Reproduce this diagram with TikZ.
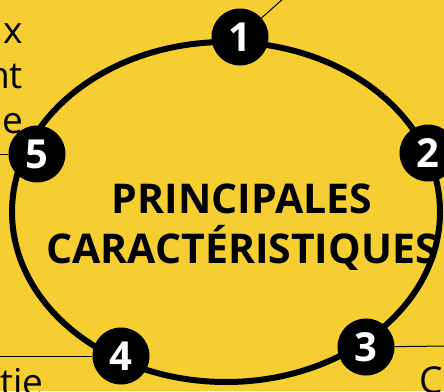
\documentclass[tikz,border=0pt]{standalone}
\usepackage{fontspec}
\setmainfont{Open Sans}
\definecolor{bgyellow}{HTML}{F5CE31}
\begin{document}
\begin{tikzpicture}[x=1pt,y=-1pt,
  numdot/.style={circle,fill=black,minimum size=57pt,inner sep=0pt,text=white,font=\fontsize{40}{42}\selectfont\bfseries},
  thinline/.style={line width=1pt,black},
  ringline/.style={line width=6pt,black},
  sidetext/.style={font=\fontsize{37}{45}\selectfont,inner sep=0pt,text=black}]
\fill[bgyellow] (0,0) rectangle (444,391);
\useasboundingbox (0,0) rectangle (444,391);
\draw[ringline] (226,212) ellipse [x radius=214, y radius=170];
% side text fragments
\node[sidetext,anchor=base east] (t1) at (23,43) {ux};
\node[sidetext,anchor=base east] (t2) at (23,88) {nt};
\node[sidetext,anchor=base east] (t3) at (23,133) {e};
\node[sidetext,anchor=base west] (t4) at (0,395) {tie};
\node[sidetext,anchor=base west] (t5) at (419,393) {C};
% free ends
\coordinate (e1) at (284,-2);
\coordinate (e3) at (446,346);
\coordinate (e4) at (-2,356);
\coordinate (e5) at (-2,154);
% circles
\node[numdot] (c1) at (240,37) {1};
\node[numdot] (c2) at (428,153) {2};
\node[numdot] (c3) at (366,347) {3};
\node[numdot] (c4) at (121,356) {4};
\node[numdot] (c5) at (37,154) {5};
\draw[thinline] (c1) -- (e1);
\draw[thinline] (c3) -- (e3);
\draw[thinline] (c4) -- (e4);
\draw[thinline] (c5) -- (e5);
% title
\node[font=\fontsize{41}{50}\selectfont\bfseries,align=center,inner sep=0pt,anchor=base] (title) at (242,263) {PRINCIPALES\\CARACTÉRISTIQUES};
\end{tikzpicture}
\end{document}
